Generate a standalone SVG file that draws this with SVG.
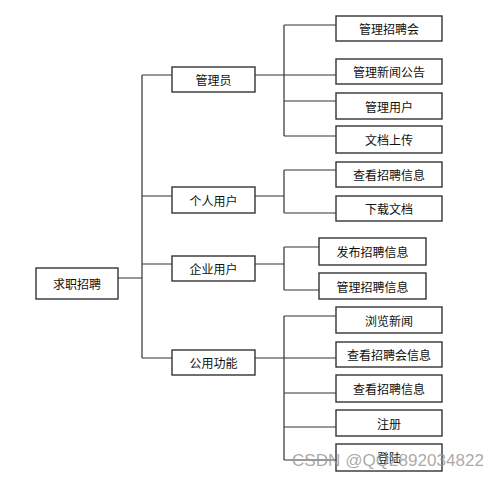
<svg xmlns="http://www.w3.org/2000/svg" width="499" height="479" viewBox="0 0 499 479">
<style>
.box rect{fill:#fff;stroke:#333;stroke-width:1.4}
.box text{font-family:"Noto Sans CJK SC","Liberation Sans",sans-serif;font-size:12px;fill:#111;text-anchor:middle;dominant-baseline:central}
#connectors path{fill:none;stroke:#333;stroke-width:1.2}
.wm{font-family:"Liberation Sans",sans-serif;font-size:17px;fill:#9a9a9a;fill-opacity:0.85}
</style>
<rect width="499" height="479" fill="#fff"/>
<g id="connectors">
<path d="M118 278H142M142 75V358M142 75H172M142 196H172M142 264H172M142 358H172"/>
<path d="M255 75H336M284 25V136M284 25H336M284 101H336M284 136H336"/>
<path d="M255 196H284M284 170V213M284 170H336M284 213H336"/>
<path d="M255 264H284M284 247V290M284 247H319M284 290H319"/>
<path d="M255 358H336M284 316V460M284 316H336M284 393H336M284 427H336M284 460H336"/>
</g>
<g id="root" class="box"><rect x="36" y="268" width="82" height="31"/><text x="77" y="283.5">求职招聘</text></g>
<g id="admin" class="box"><rect x="172" y="67" width="83" height="25"/><text x="213.5" y="79.5">管理员</text></g>
<g id="personal" class="box"><rect x="172" y="187" width="83" height="26"/><text x="213.5" y="200">个人用户</text></g>
<g id="company" class="box"><rect x="172" y="256" width="83" height="25"/><text x="213.5" y="268.5">企业用户</text></g>
<g id="common" class="box"><rect x="172" y="350" width="83" height="25"/><text x="213.5" y="362.5">公用功能</text></g>
<g id="a1" class="box"><rect x="336" y="16" width="106" height="25"/><text x="389" y="28.5">管理招聘会</text></g>
<g id="a2" class="box"><rect x="336" y="59" width="106" height="25"/><text x="389" y="71.5">管理新闻公告</text></g>
<g id="a3" class="box"><rect x="336" y="93" width="106" height="26"/><text x="389" y="106">管理用户</text></g>
<g id="a4" class="box"><rect x="336" y="126" width="106" height="27"/><text x="389" y="139.5">文档上传</text></g>
<g id="p1" class="box"><rect x="336" y="162" width="106" height="25"/><text x="389" y="174.5">查看招聘信息</text></g>
<g id="p2" class="box"><rect x="336" y="196" width="106" height="25"/><text x="389" y="208.5">下载文档</text></g>
<g id="c1" class="box"><rect x="319" y="238" width="107" height="27"/><text x="372.5" y="251.5">发布招聘信息</text></g>
<g id="c2" class="box"><rect x="319" y="273" width="107" height="26"/><text x="372.5" y="286">管理招聘信息</text></g>
<g id="u1" class="box"><rect x="336" y="307" width="106" height="26"/><text x="389" y="320">浏览新闻</text></g>
<g id="u2" class="box"><rect x="336" y="342" width="106" height="25"/><text x="389" y="354.5">查看招聘会信息</text></g>
<g id="u3" class="box"><rect x="336" y="375" width="106" height="27"/><text x="389" y="388.5">查看招聘信息</text></g>
<g id="u4" class="box"><rect x="336" y="410" width="106" height="26"/><text x="389" y="423">注册</text></g>
<g id="u5" class="box"><rect x="336" y="444" width="106" height="27"/><text x="389" y="457.5">登陆</text></g>
<text class="wm" x="292" y="466" textLength="192" lengthAdjust="spacingAndGlyphs">CSDN @QQ2892034822</text>
</svg>
